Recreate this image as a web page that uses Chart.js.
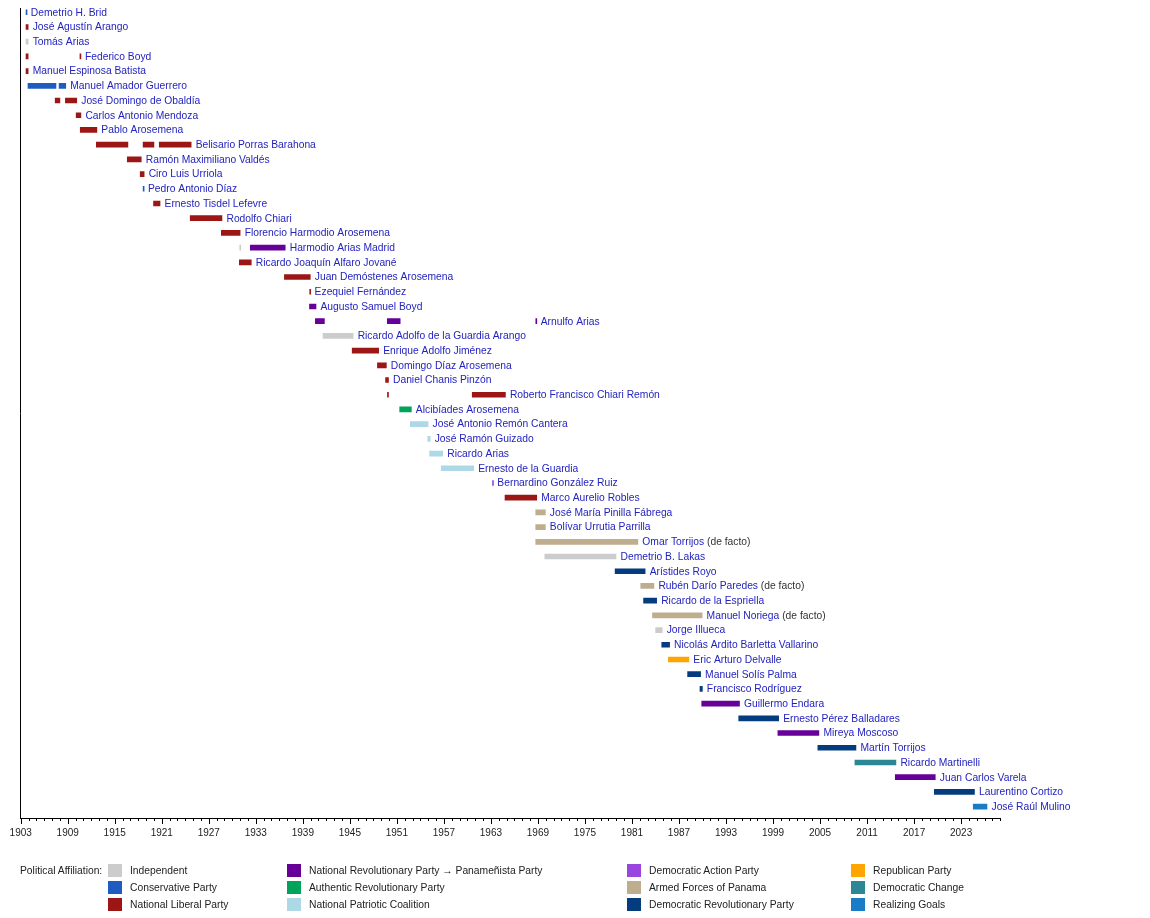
<!DOCTYPE html>
<html>
<head>
<meta charset="utf-8">
<title>Presidents of Panama</title>
<script src="https://cdn.jsdelivr.net/npm/chart.js@4/dist/chart.umd.min.js"></script>
<style>
  html, body { margin: 0; padding: 0; background: #fff; }
  #wrap { position: relative; width: 1150px; height: 918px; }
  #chart { position: absolute; left: 0; top: 0; }
  .legend { position: absolute; font: 10.3px "Liberation Sans", Arial, sans-serif; color: #222; white-space: nowrap; }
  .swatch { position: absolute; width: 14px; height: 13px; }
</style>
</head>
<body>
<div id="wrap">
  <canvas id="chart" width="1150" height="918"></canvas>
  <div id="legend"></div>
</div>
<script>
// ==================================================
// DATA
// ==================================================
const presidents = [
  "Demetrio H. Brid", "José Agustín Arango", "Tomás Arias", "Federico Boyd",
  "Manuel Espinosa Batista", "Manuel Amador Guerrero", "José Domingo de Obaldía",
  "Carlos Antonio Mendoza", "Pablo Arosemena", "Belisario Porras Barahona",
  "Ramón Maximiliano Valdés", "Ciro Luis Urriola", "Pedro Antonio Díaz",
  "Ernesto Tisdel Lefevre", "Rodolfo Chiari", "Florencio Harmodio Arosemena",
  "Harmodio Arias Madrid", "Ricardo Joaquín Alfaro Jované", "Juan Demóstenes Arosemena",
  "Ezequiel Fernández", "Augusto Samuel Boyd", "Arnulfo Arias",
  "Ricardo Adolfo de la Guardia Arango", "Enrique Adolfo Jiménez", "Domingo Díaz Arosemena",
  "Daniel Chanis Pinzón", "Roberto Francisco Chiari Remón", "Alcibíades Arosemena",
  "José Antonio Remón Cantera", "José Ramón Guizado", "Ricardo Arias",
  "Ernesto de la Guardia", "Bernardino González Ruiz", "Marco Aurelio Robles",
  "José María Pinilla Fábrega", "Bolívar Urrutia Parrilla", "Omar Torrijos",
  "Demetrio B. Lakas", "Arístides Royo", "Rubén Darío Paredes",
  "Ricardo de la Espriella", "Manuel Noriega", "Jorge Illueca",
  "Nicolás Ardito Barletta Vallarino", "Eric Arturo Delvalle", "Manuel Solís Palma",
  "Francisco Rodríguez", "Guillermo Endara", "Ernesto Pérez Balladares",
  "Mireya Moscoso", "Martín Torrijos", "Ricardo Martinelli",
  "Juan Carlos Varela", "Laurentino Cortizo", "José Raúl Mulino"
];

// rows that carry a note after the name
const noteRows = [36, 39, 41];
const noteText = "(de facto)";

// parties (legend order, column by column)
const partyNames = [
  "Independent", "Conservative Party", "National Liberal Party",
  "National Revolutionary Party \u2192 Panameñista Party", "Authentic Revolutionary Party", "National Patriotic Coalition",
  "Democratic Action Party", "Armed Forces of Panama", "Democratic Revolutionary Party",
  "Republican Party", "Democratic Change", "Realizing Goals"
];
const partyColors = [
  "#cccccc", "#1f5cc2", "#9c1616",
  "#660099", "#00a35a", "#add8e6",
  "#9a45e0", "#bfae8e", "#053c7e",
  "#ffa500", "#2b8794", "#1a7cc6"
];
const IND = 0, CON = 1, NLP = 2, NRP = 3, ARP = 4, NPC = 5,
  DAP = 6, FAP = 7, PRD = 8, REP = 9, CD = 10, RM = 11;

// one entry per term in office
const termRow = [
  0, 1, 2, 3, 3, 4, 5, 5, 6, 6,
  7, 8, 9, 9, 9, 10, 11, 12, 13, 14,
  15, 16, 16, 17, 18, 19, 20, 21, 21, 21,
  22, 23, 24, 25, 26, 26, 27, 28, 29, 30,
  31, 32, 33, 34, 35, 36, 37, 38, 39, 40,
  41, 42, 43, 44, 45, 46, 47, 48, 49, 50,
  51, 52, 53, 54
];
const termStart = [
  1903.68, 1903.68, 1903.68, 1903.68, 1910.56, 1903.68, 1903.93, 1907.90, 1907.40, 1908.70,
  1910.08, 1910.60, 1912.65, 1918.62, 1920.68, 1916.60, 1918.25, 1918.62, 1919.95, 1924.63,
  1928.60, 1930.95, 1932.30, 1930.90, 1936.65, 1939.88, 1939.85, 1940.60, 1949.78, 1968.73,
  1941.58, 1945.30, 1948.52, 1949.56, 1949.80, 1960.62, 1951.36, 1952.72, 1954.95, 1955.18,
  1956.66, 1963.20, 1964.80, 1968.72, 1968.72, 1968.72, 1969.88, 1978.85, 1982.12, 1982.48,
  1983.62, 1984.02, 1984.80, 1985.65, 1988.10, 1989.68, 1989.90, 1994.62, 1999.62, 2004.72,
  2009.45, 2014.60, 2019.58, 2024.55
];
const termEnd = [
  1903.72, 1903.95, 1903.95, 1903.95, 1910.62, 1903.95, 1907.50, 1908.75, 1908.00, 1910.15,
  1910.68, 1912.72, 1916.68, 1920.00, 1924.75, 1918.38, 1918.75, 1918.66, 1920.78, 1928.68,
  1931.00, 1930.99, 1936.75, 1932.42, 1939.95, 1939.93, 1940.68, 1941.75, 1951.42, 1968.78,
  1945.42, 1948.68, 1949.66, 1949.93, 1949.85, 1964.85, 1952.85, 1954.98, 1955.25, 1956.85,
  1960.80, 1963.25, 1968.85, 1969.95, 1969.95, 1981.75, 1978.96, 1982.68, 1983.80, 1984.15,
  1989.95, 1984.86, 1985.80, 1988.26, 1989.76, 1989.98, 1994.72, 1999.72, 2004.85, 2009.58,
  2014.68, 2019.70, 2024.70, 2026.30
];
const termParty = [
  CON, NLP, IND, NLP, NLP, NLP, CON, CON, NLP, NLP,
  NLP, NLP, NLP, NLP, NLP, NLP, NLP, CON, NLP, NLP,
  NLP, IND, NRP, NLP, NLP, NLP, NRP, NRP, NRP, NRP,
  IND, NLP, NLP, NLP, NLP, NLP, ARP, NPC, NPC, NPC,
  NPC, DAP, NLP, FAP, FAP, FAP, IND, PRD, FAP, PRD,
  FAP, IND, PRD, REP, PRD, PRD, NRP, PRD, NRP, PRD,
  CD, NRP, PRD, RM
];

// axis
const yearMin = 1903;
const yearMax = 2028;
const labelEvery = 6;

// ==================================================
// PLUGINS
// ==================================================
const FONT = '"Liberation Sans", Arial, sans-serif';

// names written right after each president's last term
const nameLabels = {
  id: "nameLabels",
  afterDatasetsDraw(chart) {
    const { ctx, scales: { x, y } } = chart;
    ctx.save();
    ctx.font = "10.3px " + FONT;
    ctx.textBaseline = "middle";
    presidents.forEach((name, row) => {
      let last = -Infinity;
      termRow.forEach((r, i) => {
        if (r === row && termEnd[i] > last) last = termEnd[i];
      });
      const px = x.getPixelForValue(last) + 4.5;
      const py = y.getPixelForValue(row) + 0.5;
      ctx.fillStyle = "#2323be";
      ctx.fillText(name, px, py);
      if (noteRows.includes(row)) {
        const w = ctx.measureText(name + " ").width;
        ctx.fillStyle = "#333";
        ctx.fillText(noteText, px + w, py);
      }
    });
    ctx.restore();
  },
};

// yearly minor ticks, longer ticks on labelled years
const yearTicks = {
  id: "yearTicks",
  afterDraw(chart) {
    const { ctx, chartArea, scales: { x } } = chart;
    ctx.save();
    ctx.strokeStyle = "#000";
    ctx.lineWidth = 1;
    ctx.beginPath();
    for (let yr = yearMin; yr <= yearMax; yr++) {
      const px = Math.round(x.getPixelForValue(yr)) + 0.5;
      const len = (yr - yearMin) % labelEvery === 0 ? 5.5 : 2.5;
      ctx.moveTo(px, chartArea.bottom);
      ctx.lineTo(px, chartArea.bottom + len);
    }
    ctx.stroke();
    ctx.restore();
  },
};

// ==================================================
// CHART
// ==================================================
const ctx = document.getElementById("chart").getContext("2d");

const myChart = new Chart(ctx, {
  type: "bar",
  data: {
    datasets: [
      {
        data: termRow.map((row, i) => ({ y: row, x: [termStart[i], termEnd[i]] })),
        backgroundColor: termParty.map((p) => partyColors[p]),
        borderWidth: 0,
        barThickness: 5,
        minBarLength: 1,
      },
    ],
  },
  options: {
    indexAxis: "y",
    responsive: false,
    animation: false,
    layout: { padding: { left: 20.7, right: 149.7, top: 8, bottom: 69.5 } },
    plugins: {
      legend: { display: false },
      tooltip: { enabled: false },
    },
    scales: {
      x: {
        type: "linear",
        min: yearMin,
        max: yearMax,
        bounds: "data",
        grid: { display: false, drawTicks: false },
        border: { display: true, color: "#000", width: 1 },
        ticks: {
          stepSize: 1,
          autoSkip: false,
          maxRotation: 0,
          padding: 9,
          color: "#222",
          font: { family: FONT, size: 10 },
          callback: function (value) {
            return (value - yearMin) % labelEvery === 0 ? String(value) : "";
          },
        },
      },
      y: {
        type: "linear",
        reverse: true,
        min: -0.29,
        max: 54.81,
        bounds: "data",
        offset: false,
        grid: { display: false, drawTicks: false },
        border: { display: true, color: "#000", width: 1 },
        ticks: { display: false },
      },
    },
  },
  plugins: [nameLabels, yearTicks],
});

// ==================================================
// LEGEND
// ==================================================
const legendEl = document.getElementById("legend");
const colX = [108, 287, 627, 851];
const rowY = [864, 881, 898];

const title = document.createElement("div");
title.className = "legend";
title.style.left = "20px";
title.style.top = rowY[0] + "px";
title.style.lineHeight = "13px";
title.textContent = "Political Affiliation:";
legendEl.appendChild(title);

partyNames.forEach((name, i) => {
  const col = Math.floor(i / 3);
  const row = i % 3;
  const sw = document.createElement("div");
  sw.className = "swatch";
  sw.style.left = colX[col] + "px";
  sw.style.top = rowY[row] + "px";
  sw.style.background = partyColors[i];
  legendEl.appendChild(sw);

  const label = document.createElement("div");
  label.className = "legend";
  label.style.left = colX[col] + 22 + "px";
  label.style.top = rowY[row] + "px";
  label.style.lineHeight = "13px";
  label.textContent = name;
  legendEl.appendChild(label);
});
</script>
</body>
</html>
